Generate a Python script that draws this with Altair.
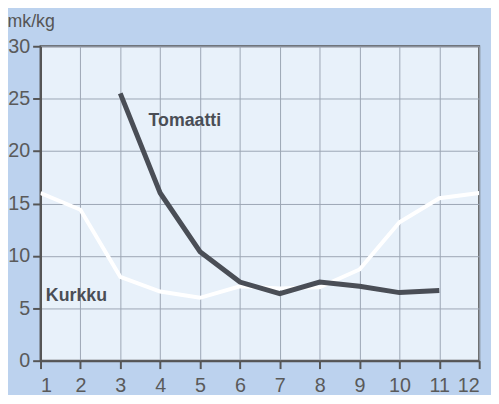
import altair as alt
import pandas as pd

months = list(range(1, 13))
tomaatti_months = [3, 4, 5, 6, 7, 8, 9, 10, 11]
tomaatti = [25.5, 16.0, 10.4, 7.5, 6.4, 7.5, 7.1, 6.5, 6.7]
kurkku = [16.0, 14.4, 8.0, 6.6, 6.0, 7.1, 6.9, 7.0, 8.7, 13.2, 15.5, 16.0]

label_names = ["Tomaatti", "Kurkku"]
label_x = [4.62, 1.9]
label_y = [22.9, 6.2]

df_t = pd.DataFrame({"kk": tomaatti_months, "hinta": tomaatti})
df_k = pd.DataFrame({"kk": months, "hinta": kurkku})
df_l = pd.DataFrame({"name": label_names, "kk": label_x, "hinta": label_y})

xs = alt.Scale(domain=[1, 12], nice=False)
ys = alt.Scale(domain=[0, 30], nice=False)

x_axis = alt.Axis(values=months, grid=True, tickSize=8, labelPadding=7,
                  title=None, format="d")
y_axis = alt.Axis(values=[0, 5, 10, 15, 20, 25, 30], grid=True, tickSize=8,
                  labelPadding=3, title="mk/kg", titleAngle=0, titleAlign="left",
                  titleBaseline="alphabetic", titleX=-34, titleY=-20,
                  titleFont="Liberation Sans", titleFontSize=18,
                  titleFontWeight="normal", titleColor="#555555")

k_line = alt.Chart(df_k).mark_line(color="white", strokeWidth=4, clip=True).encode(
    x=alt.X("kk:Q", scale=xs, axis=x_axis),
    y=alt.Y("hinta:Q", scale=ys, axis=y_axis),
)
t_line = alt.Chart(df_t).mark_line(color="#4a4e56", strokeWidth=5).encode(
    x=alt.X("kk:Q", scale=xs),
    y=alt.Y("hinta:Q", scale=ys),
)
labels = alt.Chart(df_l).mark_text(font="Liberation Sans", fontSize=18,
                                   fontWeight="bold", color="#4a4e56").encode(
    x=alt.X("kk:Q", scale=xs),
    y=alt.Y("hinta:Q", scale=ys),
    text="name:N",
)

chart = alt.layer(k_line, t_line, labels).properties(
    width=445, height=319,
    background="#bcd2ee",
    padding={"left": 33, "top": 36, "right": 12, "bottom": 32},
    autosize=alt.AutoSizeParams(type="none"),
).configure_view(
    fill="#e8f1fa", stroke="#555555", strokeWidth=2
).configure_axis(
    labelFont="Liberation Sans", labelFontSize=20, labelColor="#5a5a5a",
    domainColor="#555555", domainWidth=2, tickColor="#555555", tickWidth=2,
    gridColor="#9ba6b4", gridWidth=1, gridOpacity=1,
)

chart.save("out.html", embed_options={"renderer": "svg", "actions": False})
